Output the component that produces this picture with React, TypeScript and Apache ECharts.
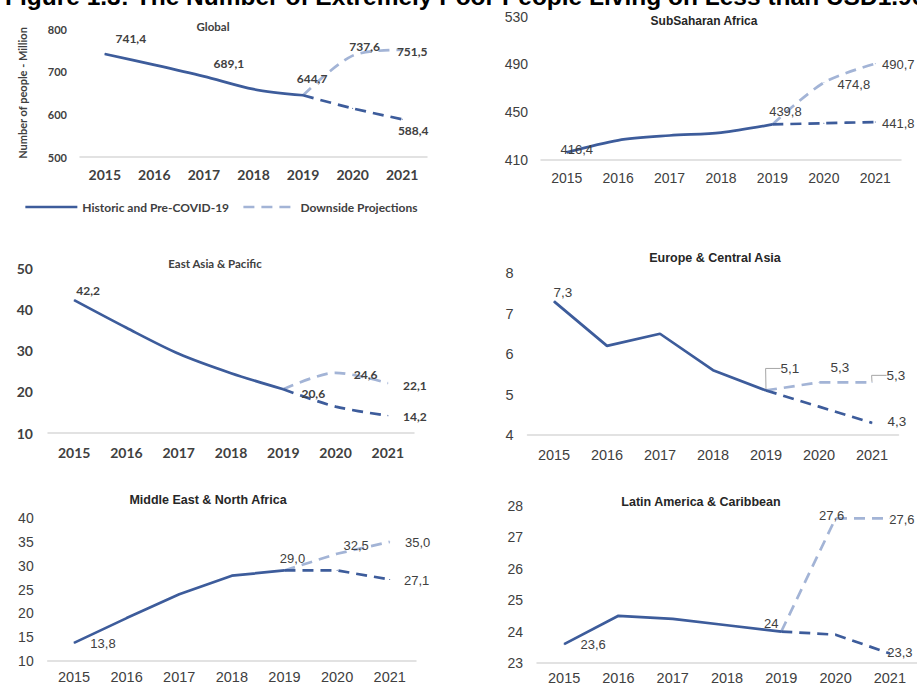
import React, { useEffect, useRef } from 'react';
import * as echarts from 'echarts';

// ---------- data ----------
const years = ['2015', '2016', '2017', '2018', '2019', '2020', '2021'];

const globalHistoric = [741.4, 716, 689.1, 659, 644.7, null, null];
const globalPreCovid = [null, null, null, null, 644.7, 614, 588.4];
const globalDownside = [null, null, null, null, 644.7, 737.6, 751.5];

const ssaHistoric = [416.4, 426.5, 430.5, 433, 439.8, null, null];
const ssaPreCovid = [null, null, null, null, 439.8, 440.8, 441.8];
const ssaDownside = [null, null, null, null, 439.8, 474.8, 490.7];

const eapHistoric = [42.2, 35.5, 29.2, 24.5, 20.6, null, null];
const eapPreCovid = [null, null, null, null, 20.6, 16.4, 14.2];
const eapDownside = [null, null, null, null, 20.6, 24.6, 22.1];

const ecaHistoric = [7.3, 6.2, 6.5, 5.6, 5.1, null, null];
const ecaPreCovid = [null, null, null, null, 5.1, 4.7, 4.3];
const ecaDownside = [null, null, null, null, 5.1, 5.3, 5.3];

const menaHistoric = [13.8, 19.0, 24.0, 27.9, 29.0, null, null];
const menaPreCovid = [null, null, null, null, 29.0, 29.0, 27.1];
const menaDownside = [null, null, null, null, 29.0, 32.5, 35.0];

const lacHistoric = [23.6, 24.5, 24.4, 24.2, 24.0, null, null];
const lacPreCovid = [null, null, null, null, 24.0, 23.9, 23.3];
const lacDownside = [null, null, null, null, 24.0, 27.6, 27.6];

const figureTitle =
  'Figure 1.3: The Number of Extremely Poor People Living on Less than USD1.90 a Day';
const legendHistoric = 'Historic and Pre-COVID-19';
const legendDownside = 'Downside Projections';
const yAxisTitle = 'Number of people - Million';

// ---------- styles ----------
const DARK = '#3d5c9b';
const LIGHT = '#a3b4d6';
const TXT = '#404040';
const LFONT = 'Lato';
const RFONT = 'Liberation Sans';

type LabelSpec = { i: number; dx: number; dy: number; guide?: boolean; decimals?: number };

interface Panel {
  title: string;
  titleX: number;
  titleY: number;
  historic: (number | null)[];
  pre: (number | null)[];
  down: (number | null)[];
  yMin: number;
  yMax: number;
  yStep: number;
  grid: { left: number; top: number; width: number; height: number };
  smooth: number | boolean;
  left: boolean;
  xSize: number;
  ySize: number;
  lblSize: number;
  titleSize: number;
  xMargin: number;
  yMargin: number;
  labels: { historic: LabelSpec[]; pre: LabelSpec[]; down: LabelSpec[] };
  yName?: string;
}

const panels: Panel[] = [
  {
    title: 'Global', titleX: 213, titleY: 26,
    historic: globalHistoric, pre: globalPreCovid, down: globalDownside,
    yMin: 500, yMax: 800, yStep: 100,
    grid: { left: 80, top: 29, width: 347, height: 128 },
    smooth: 0.3, left: true, xSize: 14, ySize: 11, lblSize: 12, titleSize: 11.5,
    xMargin: 10, yMargin: 13,
    labels: {
      historic: [{ i: 0, dx: 26, dy: -16 }, { i: 2, dx: 25, dy: -13 }, { i: 4, dx: 9, dy: -17 }],
      pre: [{ i: 6, dx: 11, dy: 11 }],
      down: [{ i: 5, dx: 12, dy: -9 }, { i: 6, dx: 10, dy: 2 }],
    },
    yName: yAxisTitle,
  },
  {
    title: 'SubSaharan Africa', titleX: 704, titleY: 21,
    historic: ssaHistoric, pre: ssaPreCovid, down: ssaDownside,
    yMin: 410, yMax: 530, yStep: 40,
    grid: { left: 541, top: 16.7, width: 360, height: 143.3 },
    smooth: 0.3, left: false, xSize: 14, ySize: 14, lblSize: 13, titleSize: 12,
    xMargin: 11, yMargin: 13,
    labels: {
      historic: [{ i: 0, dx: 10, dy: -3 }, { i: 4, dx: 13, dy: -13 }],
      pre: [{ i: 6, dx: 23, dy: 1 }],
      down: [{ i: 5, dx: 30, dy: 2 }, { i: 6, dx: 23, dy: 1 }],
    },
  },
  {
    title: 'East Asia & Pacific', titleX: 215, titleY: 263,
    historic: eapHistoric, pre: eapPreCovid, down: eapDownside,
    yMin: 10, yMax: 50, yStep: 10,
    grid: { left: 48, top: 268, width: 366, height: 165 },
    smooth: 0.3, left: true, xSize: 14, ySize: 14, lblSize: 12, titleSize: 11.5,
    xMargin: 12, yMargin: 15,
    labels: {
      historic: [{ i: 0, dx: 14, dy: -10 }, { i: 4, dx: 30, dy: 4 }],
      pre: [{ i: 6, dx: 27, dy: 1 }],
      down: [{ i: 5, dx: 30, dy: 2 }, { i: 6, dx: 27, dy: 2 }],
    },
  },
  {
    title: 'Europe & Central Asia', titleX: 715, titleY: 258,
    historic: ecaHistoric, pre: ecaPreCovid, down: ecaDownside,
    yMin: 4, yMax: 8, yStep: 1,
    grid: { left: 527.5, top: 273, width: 371, height: 162 },
    smooth: false, left: false, xSize: 14.5, ySize: 14.5, lblSize: 13.5, titleSize: 12.5,
    xMargin: 12, yMargin: 14,
    labels: {
      historic: [{ i: 0, dx: 9, dy: -9 }],
      pre: [{ i: 6, dx: 25, dy: -1 }],
      down: [
        { i: 4, dx: 24, dy: -22, guide: true },
        { i: 5, dx: 21, dy: -15 },
        { i: 6, dx: 24, dy: -7, guide: true },
      ],
    },
  },
  {
    title: 'Middle East & North Africa', titleX: 208, titleY: 500,
    historic: menaHistoric, pre: menaPreCovid, down: menaDownside,
    yMin: 10, yMax: 40, yStep: 5,
    grid: { left: 47.7, top: 518, width: 368.3, height: 143 },
    smooth: false, left: false, xSize: 14.5, ySize: 14, lblSize: 13, titleSize: 12.5,
    xMargin: 8, yMargin: 14,
    labels: {
      historic: [{ i: 0, dx: 29, dy: 1 }],
      pre: [{ i: 6, dx: 27, dy: 1 }],
      down: [{ i: 4, dx: 8, dy: -12 }, { i: 5, dx: 19, dy: -8 }, { i: 6, dx: 28, dy: 1 }],
    },
  },
  {
    title: 'Latin America & Caribbean', titleX: 701, titleY: 502,
    historic: lacHistoric, pre: lacPreCovid, down: lacDownside,
    yMin: 23, yMax: 28, yStep: 1,
    grid: { left: 537, top: 505.7, width: 380, height: 157.3 },
    smooth: false, left: false, xSize: 14.5, ySize: 14, lblSize: 13, titleSize: 12.5,
    xMargin: 7, yMargin: 14,
    labels: {
      historic: [{ i: 0, dx: 29, dy: 0 }],
      pre: [{ i: 6, dx: 10, dy: -1 }],
      down: [{ i: 4, dx: -10, dy: -8, decimals: 0 }, { i: 5, dx: -4, dy: -3 }, { i: 6, dx: 12, dy: 1 }],
    },
  },
];

const fmt = (v: number, d = 1) => v.toFixed(d).replace('.', ',');

function buildData(values: (number | null)[], specs: LabelSpec[], p: Panel) {
  return values.map((v, i) => {
    if (v == null) return '-';
    const s = specs.find((l) => l.i === i);
    if (!s) return v;
    const item: any = {
      value: v,
      label: {
        show: true,
        position: [s.dx + 0.5, s.dy + 0.5],
        align: 'center',
        verticalAlign: 'middle',
        formatter: fmt(v, s.decimals ?? 1),
        color: TXT,
        fontFamily: p.left ? LFONT : RFONT,
        fontWeight: p.left ? 'bold' : 'normal',
        fontSize: p.lblSize,
        textBorderWidth: 0,
      },
    };
    if (s.guide) {
      item.labelLine = {
        show: true,
        length2: 15,
        smooth: false,
        lineStyle: { color: '#a6a6a6', width: 1 },
      };
    }
    return item;
  });
}

function buildOption() {
  const series: any[] = [];
  panels.forEach((p, k) => {
    const common = {
      type: 'line',
      xAxisIndex: k,
      yAxisIndex: k,
      symbol: 'circle',
      symbolSize: 1,
      showSymbol: true,
      smooth: p.smooth,
      label: { show: false },
      emphasis: { disabled: true },
    };
    series.push({
      ...common,
      name: legendDownside,
      data: buildData(p.down, p.labels.down, p),
      itemStyle: { color: LIGHT },
      lineStyle: { color: LIGHT, width: 2.7, type: [11, 7] },
      z: 2,
    });
    series.push({
      ...common,
      name: 'Pre-COVID-19 Projections',
      data: buildData(p.pre, p.labels.pre, p),
      itemStyle: { color: DARK },
      lineStyle: { color: DARK, width: 2.7, type: [11, 7] },
      z: 3,
    });
    series.push({
      ...common,
      name: legendHistoric,
      data: buildData(p.historic, p.labels.historic, p),
      itemStyle: { color: DARK },
      lineStyle: { color: DARK, width: 2.7 },
      z: 4,
    });
  });

  const graphic: any[] = [
    {
      type: 'text',
      x: 5,
      y: -4,
      style: {
        text: figureTitle,
        fontFamily: RFONT,
        fontWeight: 'bold',
        fontSize: 24.5,
        fill: '#000',
        align: 'left',
        verticalAlign: 'middle',
      },
    },
    ...panels.map((p) => ({
      type: 'text',
      x: p.titleX,
      y: p.titleY,
      style: {
        text: p.title,
        fontFamily: p.left ? LFONT : RFONT,
        fontWeight: 'bold',
        fontSize: p.titleSize,
        fill: p.left ? TXT : '#262626',
        align: 'center',
        verticalAlign: 'middle',
      },
    })),
  ];

  return {
    animation: false,
    backgroundColor: '#ffffff',
    grid: panels.map((p) => ({ ...p.grid, containLabel: false, outerBoundsMode: 'none' })),
    xAxis: panels.map((p, k) => ({
      type: 'category',
      gridIndex: k,
      data: years,
      boundaryGap: true,
      axisLine: { show: true, lineStyle: { color: '#d9d9d9', width: 1.5 } },
      axisTick: { show: false },
      splitLine: { show: false },
      axisLabel: {
        margin: p.xMargin,
        color: TXT,
        fontFamily: p.left ? LFONT : RFONT,
        fontWeight: p.left ? 'bold' : 'normal',
        fontSize: p.xSize,
        interval: 0,
      },
    })),
    yAxis: panels.map((p, k) => ({
      type: 'value',
      gridIndex: k,
      min: p.yMin,
      max: p.yMax,
      interval: p.yStep,
      axisLine: { show: false },
      axisTick: { show: false },
      splitLine: { show: false },
      axisLabel: {
        margin: p.yMargin,
        color: TXT,
        fontFamily: p.left ? LFONT : RFONT,
        fontWeight: p.left ? 'bold' : 'normal',
        fontSize: p.ySize,
      },
      name: p.yName || '',
      nameLocation: 'middle',
      nameRotate: 90,
      nameGap: 52,
      nameTextStyle: {
        color: TXT,
        fontFamily: LFONT,
        fontWeight: 'bold',
        fontSize: 11,
      },
    })),
    legend: {
      data: [legendHistoric, legendDownside],
      left: 24,
      top: 201,
      padding: 0,
      itemWidth: 52,
      itemHeight: 14,
      itemGap: 13,
      selectedMode: false,
      itemStyle: { opacity: 0 },
      lineStyle: { width: 2.7 },
      textStyle: { color: TXT, fontFamily: LFONT, fontWeight: 'bold', fontSize: 12 },
    },
    graphic,
    series,
  };
}

export default function App() {
  const ref = useRef<HTMLDivElement>(null);
  useEffect(() => {
    if (!ref.current) return;
    const chart = echarts.init(ref.current, undefined, { renderer: 'svg' });
    chart.setOption(buildOption() as any);
    return () => chart.dispose();
  }, []);
  return (
    <div
      ref={ref}
      style={{ position: 'fixed', left: 0, top: 0, width: 917, height: 683, background: '#fff' }}
    />
  );
}
